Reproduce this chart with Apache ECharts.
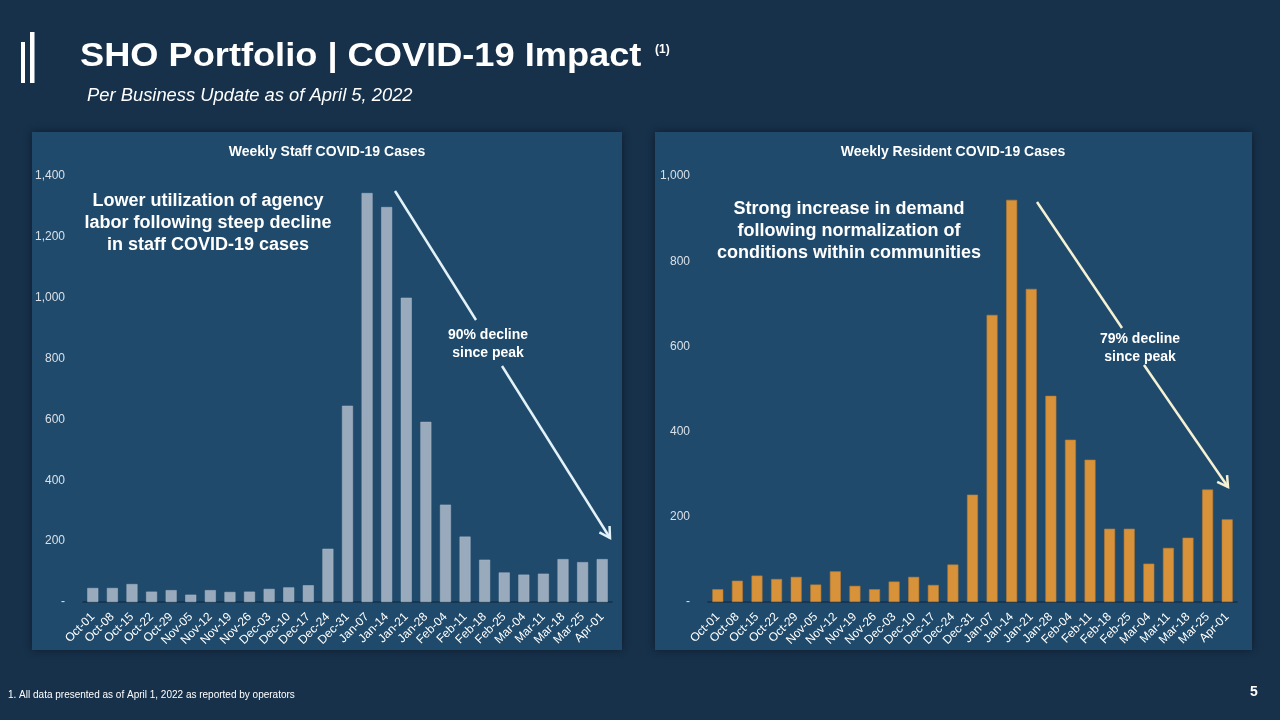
<!DOCTYPE html>
<html>
<head>
<meta charset="utf-8">
<script src="https://cdn.jsdelivr.net/npm/echarts@6/dist/echarts.min.js"></script>
<style>
html,body{margin:0;padding:0;background:#17314b;}
#c{width:1280px;height:720px;}
</style>
</head>
<body>
<div id="c"></div>
<script>
const weeks = ['Oct-01','Oct-08','Oct-15','Oct-22','Oct-29','Nov-05','Nov-12','Nov-19','Nov-26','Dec-03','Dec-10','Dec-17','Dec-24','Dec-31','Jan-07','Jan-14','Jan-21','Jan-28','Feb-04','Feb-11','Feb-18','Feb-25','Mar-04','Mar-11','Mar-18','Mar-25','Apr-01'];
const staffCases = [46,46,59,34,39,24,39,33,34,43,48,55,175,645,1344,1298,1000,592,320,215,139,97,90,93,141,131,141];
const residentCases = [30,50,62,54,59,41,72,38,30,48,59,40,88,252,674,944,735,484,381,334,172,172,90,127,151,264,194];
const staffTicks = {max:1400, interval:200};
const residentTicks = {max:1000, interval:200};

const FONT = '"Liberation Sans", Arial, sans-serif';
const chart = echarts.init(document.getElementById('c'));

function yFmt(v){ return v === 0 ? '-' : v.toLocaleString('en-US'); }

function arrowHead(x, y, x0, y0, len){
  const dx = x - x0, dy = y - y0, L = Math.hypot(dx, dy);
  const ux = -dx / L, uy = -dy / L;
  const a = Math.PI / 6;
  const r1 = [x + len * (ux * Math.cos(a) - uy * Math.sin(a)), y + len * (ux * Math.sin(a) + uy * Math.cos(a))];
  const r2 = [x + len * (ux * Math.cos(-a) - uy * Math.sin(-a)), y + len * (ux * Math.sin(-a) + uy * Math.cos(-a))];
  return [r1, [x, y], r2];
}

const leftArrowColor = '#e3f2f8';
const rightArrowColor = '#f6f1d3';

const xAxisCommon = {
  type: 'category',
  data: weeks,
  axisLine: {show: true, lineStyle: {color: '#16304a', width: 1.5}},
  axisTick: {show: false},
  axisLabel: {interval: 0, rotate: 45, color: '#ffffff', fontSize: 12, fontFamily: FONT, margin: 13}
};
const yAxisCommon = {
  type: 'value',
  min: 0,
  splitLine: {show: false},
  axisLine: {show: false},
  axisTick: {show: false},
  axisLabel: {color: '#d9e0e8', fontSize: 12, fontFamily: FONT, margin: 18, formatter: yFmt}
};

chart.setOption({
  backgroundColor: '#17314b',
  animation: false,
  grid: [
    {left: 83, right: 1280 - 612, top: 176, bottom: 118},
    {left: 708, right: 1280 - 1237, top: 176, bottom: 118}
  ],
  xAxis: [
    Object.assign({gridIndex: 0}, xAxisCommon),
    Object.assign({gridIndex: 1}, xAxisCommon)
  ],
  yAxis: [
    Object.assign({gridIndex: 0, max: staffTicks.max, interval: staffTicks.interval}, yAxisCommon),
    Object.assign({gridIndex: 1, max: residentTicks.max, interval: residentTicks.interval}, yAxisCommon)
  ],
  series: [
    {type: 'bar', xAxisIndex: 0, yAxisIndex: 0, data: staffCases, barWidth: '56%',
     itemStyle: {color: '#99aabc', borderColor: '#aab9c8', borderWidth: 0.5}},
    {type: 'bar', xAxisIndex: 1, yAxisIndex: 1, data: residentCases, barWidth: '56%',
     itemStyle: {color: '#d8923a', borderColor: '#b97b32', borderWidth: 0.6}}
  ],
  graphic: [
    // panels
    {type: 'rect', z: -10, shape: {x: 32, y: 132, width: 590, height: 518},
     style: {fill: '#1f4a6b', shadowBlur: 8, shadowColor: 'rgba(0,0,0,0.45)'}},
    {type: 'rect', z: -10, shape: {x: 655, y: 132, width: 597, height: 518},
     style: {fill: '#1f4a6b', shadowBlur: 8, shadowColor: 'rgba(0,0,0,0.45)'}},
    // header marks
    {type: 'rect', shape: {x: 21, y: 42, width: 4, height: 41}, style: {fill: '#ffffff'}},
    {type: 'rect', shape: {x: 30, y: 32, width: 4.5, height: 51}, style: {fill: '#ffffff'}},
    {type: 'text', x: 80, y: 40, scaleX: 1.065, style: {text: 'SHO Portfolio | COVID-19 Impact', fill: '#ffffff', font: 'bold 34px ' + FONT}},
    {type: 'text', x: 655, y: 44, style: {text: '(1)', fill: '#ffffff', font: 'bold 12px ' + FONT}},
    {type: 'text', x: 87, y: 87, scaleX: 1.02, style: {text: 'Per Business Update as of April 5, 2022', fill: '#ffffff', font: 'italic 18px ' + FONT}},
    // chart titles
    {type: 'text', style: {x: 327, y: 152, text: 'Weekly Staff COVID-19 Cases', fill: '#ffffff', font: 'bold 14px ' + FONT, align: 'center', verticalAlign: 'middle'}},
    {type: 'text', style: {x: 953, y: 152, text: 'Weekly Resident COVID-19 Cases', fill: '#ffffff', font: 'bold 14px ' + FONT, align: 'center', verticalAlign: 'middle'}},
    // annotations
    {type: 'text', style: {x: 208, y: 223, text: 'Lower utilization of agency\nlabor following steep decline\nin staff COVID-19 cases', fill: '#ffffff', font: 'bold 18px ' + FONT, align: 'center', verticalAlign: 'middle', lineHeight: 22}},
    {type: 'text', style: {x: 849, y: 231, text: 'Strong increase in demand\nfollowing normalization of\nconditions within communities', fill: '#ffffff', font: 'bold 18px ' + FONT, align: 'center', verticalAlign: 'middle', lineHeight: 22}},
    {type: 'text', style: {x: 488, y: 344, text: '90% decline\nsince peak', fill: '#ffffff', font: 'bold 14px ' + FONT, align: 'center', verticalAlign: 'middle', lineHeight: 18}},
    {type: 'text', style: {x: 1140, y: 348, text: '79% decline\nsince peak', fill: '#ffffff', font: 'bold 14px ' + FONT, align: 'center', verticalAlign: 'middle', lineHeight: 18}},
    // arrows
    {type: 'line', shape: {x1: 395, y1: 191, x2: 476, y2: 320}, style: {stroke: leftArrowColor, lineWidth: 2.5}},
    {type: 'line', shape: {x1: 502, y1: 366, x2: 610, y2: 538}, style: {stroke: leftArrowColor, lineWidth: 2.5}},
    {type: 'polyline', shape: {points: arrowHead(610, 538, 502, 366, 12)}, style: {stroke: leftArrowColor, lineWidth: 2.5, fill: null}},
    {type: 'line', shape: {x1: 1037, y1: 202, x2: 1122, y2: 328}, style: {stroke: rightArrowColor, lineWidth: 2.5}},
    {type: 'line', shape: {x1: 1144, y1: 365, x2: 1228, y2: 487}, style: {stroke: rightArrowColor, lineWidth: 2.5}},
    {type: 'polyline', shape: {points: arrowHead(1228, 487, 1144, 365, 12)}, style: {stroke: rightArrowColor, lineWidth: 2.5, fill: null}},
    // footer
    {type: 'text', x: 8, y: 690, style: {text: '1. All data presented as of April 1, 2022 as reported by operators', fill: '#ffffff', font: '10px ' + FONT}},
    {type: 'text', x: 1250, y: 685, style: {text: '5', fill: '#ffffff', font: 'bold 14px ' + FONT}}
  ]
});
</script>
</body>
</html>
